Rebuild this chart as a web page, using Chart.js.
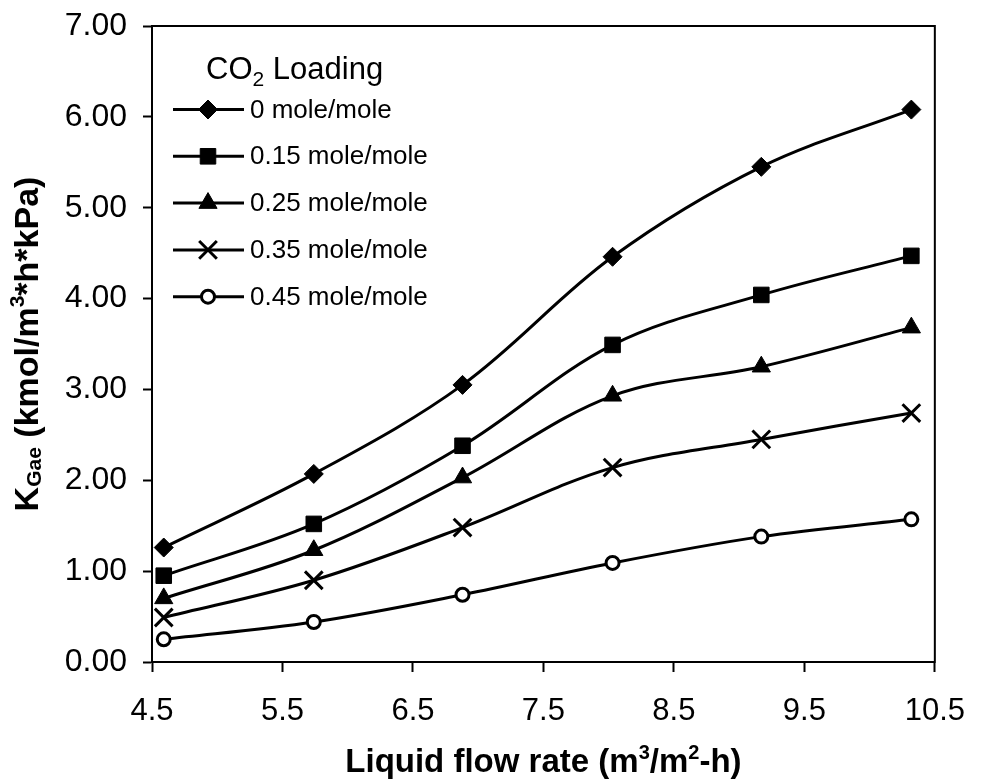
<!DOCTYPE html>
<html>
<head>
<meta charset="utf-8">
<title>KGae vs liquid flow rate</title>
<script src="https://cdn.jsdelivr.net/npm/chart.js@4.4.1/dist/chart.umd.min.js"></script>
<style>
  html, body { margin: 0; padding: 0; background: #fff; }
  #wrap { width: 986px; height: 781px; position: relative; }
</style>
</head>
<body>
<div id="wrap"><canvas id="kgaChart"></canvas></div>
<script>
// Data
const flowRate = [4.59, 5.74, 6.88, 8.03, 9.17, 10.32];
const loading000 = [1.26, 2.07, 3.05, 4.46, 5.45, 6.08];
const loading015 = [0.95, 1.52, 2.38, 3.49, 4.04, 4.47];
const loading025 = [0.70, 1.23, 2.03, 2.93, 3.25, 3.68];
const loading035 = [0.49, 0.90, 1.48, 2.14, 2.45, 2.74];
const loading045 = [0.25, 0.44, 0.74, 1.09, 1.38, 1.57];
const seriesNames = ['0 mole/mole', '0.15 mole/mole', '0.25 mole/mole', '0.35 mole/mole', '0.45 mole/mole'];
const xTickValues = [4.5, 5.5, 6.5, 7.5, 8.5, 9.5, 10.5];
const yTickValues = [0, 1, 2, 3, 4, 5, 6, 7];

const seriesValues = [loading000, loading015, loading025, loading035, loading045];

const FONT = '"Liberation Sans", Arial, Helvetica, sans-serif';

// marker look per series (diamond, square, triangle, x, open circle)
const markerStyles = [
    { pointStyle: 'rectRot', radius: 9.5, fill: '#000', borderWidth: 1 },
    { pointStyle: 'rect', radius: 11, fill: '#000', borderWidth: 1 },
    { pointStyle: 'triangle', radius: 10.5, fill: '#000', borderWidth: 1 },
    { pointStyle: 'crossRot', radius: 12.5, fill: '#000', borderWidth: 3 },
    { pointStyle: 'circle', radius: 6.5, fill: '#fff', borderWidth: 3 }
];

// text made of runs so sub/superscripts can be drawn
const xTitleParts = [
    { text: 'Liquid flow rate (m', size: 33, dy: 0 },
    { text: '3', size: 20, dy: -13 },
    { text: '/m', size: 33, dy: 0 },
    { text: '2', size: 20, dy: -13 },
    { text: '-h)', size: 33, dy: 0 }
];
const yTitleParts = [
    { text: 'K', size: 34, dy: 0 },
    { text: 'Gae', size: 21, dy: 3 },
    { text: ' (kmol/m', size: 34, dy: 0 },
    { text: '3', size: 21, dy: -14 },
    { text: '*h*kPa)', size: 34, dy: 0 }
];
const legendTitleParts = [
    { text: 'CO', size: 31, dy: 0 },
    { text: '2', size: 21, dy: 7 },
    { text: ' Loading', size: 31, dy: 0 }
];

function drawRich(ctx, parts, x, y, angle, weight, centered) {
    let total = 0;
    parts.forEach(p => {
        ctx.font = `${weight} ${p.size}px ${FONT}`;
        p.w = ctx.measureText(p.text).width;
        total += p.w;
    });
    ctx.save();
    ctx.translate(x, y);
    ctx.rotate(angle);
    ctx.textBaseline = 'alphabetic';
    ctx.textAlign = 'left';
    let cx = centered ? -total / 2 : 0;
    parts.forEach(p => {
        ctx.font = `${weight} ${p.size}px ${FONT}`;
        ctx.fillText(p.text, cx, p.dy);
        cx += p.w;
    });
    ctx.restore();
}

function drawMarker(ctx, style, x, y) {
    ctx.fillStyle = style.fill;
    ctx.strokeStyle = '#000';
    ctx.lineWidth = style.borderWidth;
    Chart.helpers.drawPoint(ctx, {
        pointStyle: style.pointStyle,
        radius: style.radius,
        rotation: 0,
        borderWidth: style.borderWidth
    }, x, y);
}

const decorations = {
    id: 'decorations',
    afterDraw(chart) {
        const ctx = chart.ctx;
        const area = chart.chartArea;
        ctx.save();

        // box around the plot
        ctx.strokeStyle = '#000';
        ctx.lineWidth = 2;
        ctx.strokeRect(area.left, area.top, area.right - area.left, area.bottom - area.top);

        // axis titles
        ctx.fillStyle = '#000';
        drawRich(ctx, xTitleParts, (area.left + area.right) / 2, 772, 0, 'bold', true);
        drawRich(ctx, yTitleParts, 38, (area.top + area.bottom) / 2, -Math.PI / 2, 'bold', true);

        // legend inside the plot
        ctx.fillStyle = '#000';
        drawRich(ctx, legendTitleParts, 206, 79, 0, 'normal', false);
        const rowTop = 109.5, rowGap = 46.8;
        chart.data.datasets.forEach((ds, i) => {
            const y = rowTop + i * rowGap;
            ctx.strokeStyle = '#000';
            ctx.lineWidth = 3;
            ctx.beginPath();
            ctx.moveTo(173, y);
            ctx.lineTo(244, y);
            ctx.stroke();
            drawMarker(ctx, markerStyles[i], 208, y);
            ctx.fillStyle = '#000';
            ctx.font = `26px ${FONT}`;
            ctx.textBaseline = 'middle';
            ctx.textAlign = 'left';
            ctx.fillText(ds.label, 250, y + 1);
        });
        ctx.restore();
    }
};

const datasets = seriesValues.map((vals, i) => ({
    label: seriesNames[i],
    data: flowRate.map((x, j) => ({ x: x, y: vals[j] })),
    borderColor: '#000',
    borderWidth: 3,
    tension: 0.35,
    fill: false,
    clip: false,
    pointStyle: markerStyles[i].pointStyle,
    pointRadius: markerStyles[i].radius,
    pointHoverRadius: markerStyles[i].radius,
    pointBackgroundColor: markerStyles[i].fill,
    pointBorderColor: '#000',
    pointBorderWidth: markerStyles[i].borderWidth
}));

new Chart(document.getElementById('kgaChart'), {
    type: 'line',
    data: { datasets: datasets },
    options: {
        responsive: true,
        maintainAspectRatio: false,
        animation: false,
        layout: { padding: { top: 26, right: 39, left: 0, bottom: 0 } },
        plugins: {
            legend: { display: false },
            tooltip: { enabled: false },
            title: { display: false }
        },
        scales: {
            x: {
                type: 'linear',
                min: 4.5,
                max: 10.5,
                afterBuildTicks: s => { s.ticks = xTickValues.map(v => ({ value: v })); },
                afterFit: s => { s.height = 119; },
                ticks: {
                    color: '#000',
                    font: { family: FONT, size: 31 },
                    padding: 21,
                    maxRotation: 0,
                    callback: v => Number(v).toFixed(1)
                },
                grid: { drawOnChartArea: false, drawTicks: true, tickLength: 10, tickColor: '#000', tickWidth: 2 },
                border: { color: '#000', width: 2 }
            },
            y: {
                min: 0,
                max: 7,
                afterBuildTicks: s => { s.ticks = yTickValues.map(v => ({ value: v })); },
                afterFit: s => { s.width = 152; s.paddingTop = 0; s.paddingBottom = 0; },
                ticks: {
                    color: '#000',
                    font: { family: FONT, size: 32 },
                    padding: 16,
                    callback: v => Number(v).toFixed(2)
                },
                grid: { drawOnChartArea: false, drawTicks: true, tickLength: 9, tickColor: '#000', tickWidth: 2 },
                border: { color: '#000', width: 2 }
            }
        }
    },
    plugins: [decorations]
});
</script>
</body>
</html>
